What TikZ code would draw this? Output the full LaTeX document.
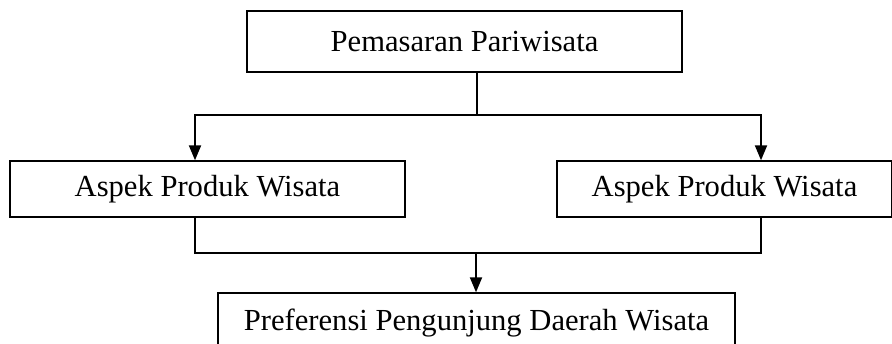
\documentclass[tikz,border=0pt]{standalone}
\usepackage{fontspec}
\setmainfont{Liberation Serif}
\usetikzlibrary{arrows.meta}

\tikzset{
  box/.style={draw, line width=0.7pt, inner sep=0pt, font=\fontsize{15.3}{18}\selectfont},
  conn/.style={line width=1pt},
  arr/.style={conn, -{Triangle[width=6pt,length=7.5pt]}}
}

\begin{document}
\begin{tikzpicture}[x=0.5pt,y=-0.5pt]

\clip (0,0) rectangle (892,343) ;

\node [box, minimum width=217.5pt, minimum height=30.5pt] (market) at (464.5,41.5) {Pemasaran Pariwisata} ;
\node [box, minimum width=197.5pt, minimum height=28pt] (prodleft) at (207.5,189) {Aspek Produk Wisata} ;
\node [box, minimum width=167.5pt, minimum height=28pt] (prodright) at (724.5,189) {Aspek Produk Wisata} ;
\node [box, minimum width=258.5pt, minimum height=30pt] (pref) at (476.5,323) {Preferensi Pengunjung Daerah Wisata} ;

\coordinate (split) at (477,115) ;
\coordinate (merge) at (476,253) ;
\coordinate (lcol) at (195,0) ;
\coordinate (rcol) at (761,0) ;

\draw [conn] (market.south -| split) -- (split) ;
\draw [arr] (split) -| (lcol |- prodleft.north) ;
\draw [arr] (split) -| (rcol |- prodright.north) ;
\draw [conn] (lcol |- prodleft.south) |- (rcol |- merge) -- (rcol |- prodright.south) ;
\draw [arr] (merge) -- (merge |- pref.north) ;

\end{tikzpicture}
\end{document}
